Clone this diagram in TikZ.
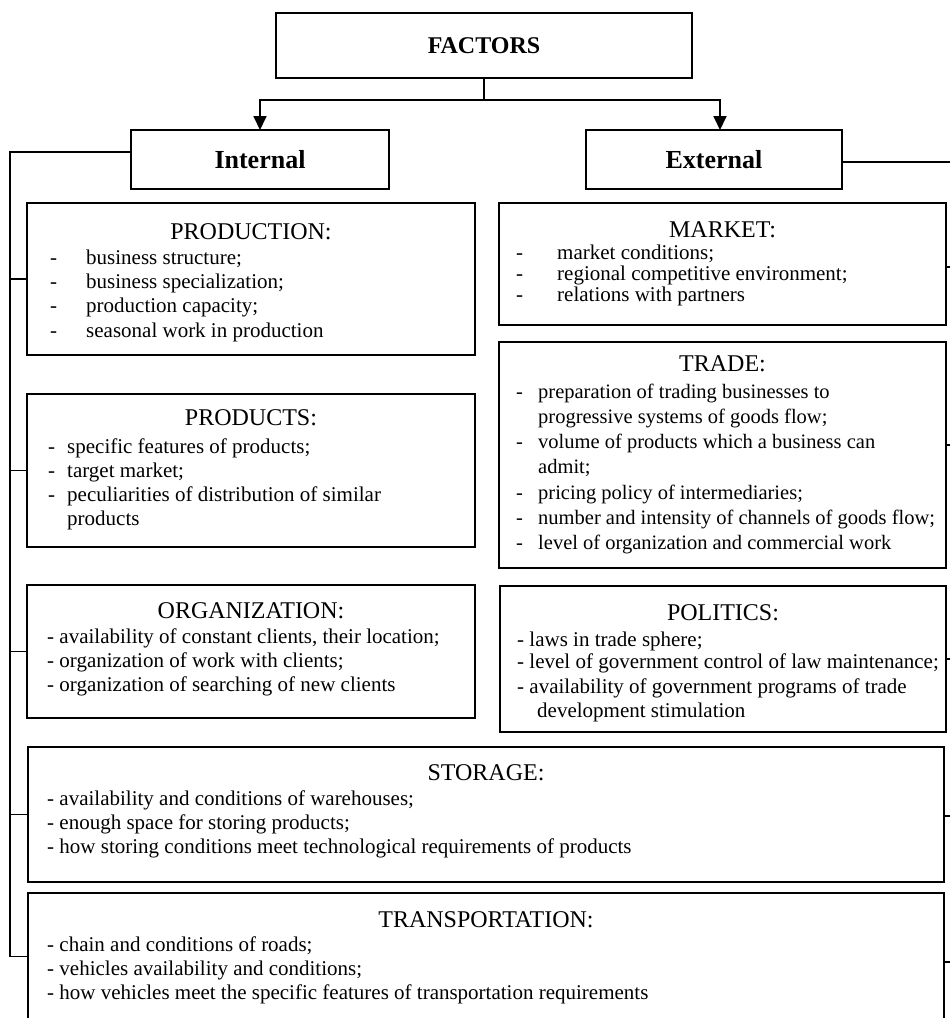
\documentclass[tikz,border=0pt]{standalone}
\usepackage{fontspec}
\setmainfont{Liberation Serif}
\usetikzlibrary{arrows.meta}
\tikzset{
  box/.style={draw, line width=1.8pt, inner sep=0pt, outer sep=0pt, anchor=north west},
  wire/.style={line width=1.8pt},
  arr/.style={wire, -{Triangle[length=14pt,width=13pt]}},
  body/.style={anchor=base west, inner sep=0pt, font=\fontsize{21}{25}\selectfont},
  tbody/.style={anchor=base west, inner sep=0pt, font=\fontsize{20.5}{24}\selectfont},
  head/.style={anchor=base, inner sep=0pt, font=\fontsize{24}{28}\selectfont},
  title/.style={font=\fontsize{24}{28}\selectfont\bfseries},
  sub/.style={font=\fontsize{26}{30}\selectfont\bfseries},
}
\newcommand\putline[4]{\node[body] (#1) at (#2,#3) {#4};}
\newcommand\puttline[4]{\node[tbody] (#1) at (#2,#3) {#4};}
\begin{document}
\begin{tikzpicture}[x=1pt,y=-1pt]
\useasboundingbox (0,0) rectangle (950,1018);

% top level
\node[box, title, minimum width=416pt, minimum height=65pt] (factors) at (276,13) {FACTORS};
\node[box, sub, minimum width=258pt, minimum height=59pt] (internal) at (131,130) {Internal};
\node[box, sub, minimum width=256pt, minimum height=59pt] (external) at (586,130) {External};

% left boxes
\node[box, minimum width=448pt, minimum height=152pt] (prod) at (27,203) {};
\node[box, minimum width=448pt, minimum height=153pt] (products) at (27,394) {};
\node[box, minimum width=448pt, minimum height=133pt] (org) at (27,585) {};
\node[box, minimum width=916pt, minimum height=135pt] (storage) at (28,747) {};
\node[box, minimum width=916pt, minimum height=127pt] (trans) at (28,893) {};
% right boxes
\node[box, minimum width=447pt, minimum height=122pt] (market) at (499,203) {};
\node[box, minimum width=447pt, minimum height=226pt] (trade) at (499,342) {};
\node[box, minimum width=446pt, minimum height=146pt] (politics) at (500,586) {};

% headings
\node[head] (hprod) at (251,239) {PRODUCTION:};
\node[head] (hproducts) at (251,425) {PRODUCTS:};
\node[head] (horg) at (251,618) {ORGANIZATION:};
\node[head] (hmarket) at (722.5,237) {MARKET:};
\node[head] (htrade) at (722.5,371) {TRADE:};
\node[head] (hpolitics) at (723,620) {POLITICS:};
\node[head] (hstorage) at (486,780) {STORAGE:};
\node[head] (htrans) at (486,927) {TRANSPORTATION:};

% PRODUCTION
\putline{pa}{50}{264}{\makebox[36pt][l]{-}business structure;}
\putline{pb}{50}{288}{\makebox[36pt][l]{-}business specialization;}
\putline{pc}{50}{312}{\makebox[36pt][l]{-}production capacity;}
\putline{pd}{50}{337}{\makebox[36pt][l]{-}seasonal work in production}
% PRODUCTS
\putline{qa}{48}{453}{\makebox[19pt][l]{-}specific features of products;}
\putline{qb}{48}{477}{\makebox[19pt][l]{-}target market;}
\putline{qc}{48}{501}{\makebox[19pt][l]{-}peculiarities of distribution of similar}
\putline{qd}{67}{525}{products}
% ORGANIZATION
\putline{oa}{47}{643}{- availability of constant clients, their location;}
\putline{ob}{47}{667}{- organization of work with clients;}
\putline{oc}{47}{691}{- organization of searching of new clients}
% MARKET
\putline{ma}{516}{259}{\makebox[41pt][l]{-}market conditions;}
\putline{mb}{516}{280}{\makebox[41pt][l]{-}regional competitive environment;}
\putline{mc}{516}{301}{\makebox[41pt][l]{-}relations with partners}
% TRADE
\puttline{ta}{516}{398}{\makebox[22pt][l]{-}preparation of trading businesses to}
\puttline{tb}{538}{423}{progressive systems of goods flow;}
\puttline{tc}{516}{448}{\makebox[22pt][l]{-}volume of products which a business can}
\puttline{td}{538}{473}{admit;}
\puttline{te}{516}{499}{\makebox[22pt][l]{-}pricing policy of intermediaries;}
\puttline{tf}{516}{524}{\makebox[22pt][l]{-}number and intensity of channels of goods flow;}
\puttline{tg}{516}{549}{\makebox[22pt][l]{-}level of organization and commercial work}
% POLITICS
\putline{la}{517}{646}{- laws in trade sphere;}
\putline{lb}{517}{668}{- level of government control of law maintenance;}
\putline{lc}{517}{693}{- availability of government programs of trade}
\putline{ld}{537}{717}{development stimulation}
% STORAGE
\putline{sa}{47}{805}{- availability and conditions of warehouses;}
\putline{sb}{47}{829}{- enough space for storing products;}
\putline{sc}{47}{853}{- how storing conditions meet technological requirements of products}
% TRANSPORTATION
\putline{ra}{47}{951}{- chain and conditions of roads;}
\putline{rb}{47}{975}{- vehicles availability and conditions;}
\putline{rc}{47}{999}{- how vehicles meet the specific features of transportation requirements}

% connectors from FACTORS
\path (factors.south) ++(0,22) coordinate (split);
\draw[wire] (factors.south) -- (split);
\draw[arr] (split) -| (internal.north);
\draw[arr] (split) -| ([xshift=6pt]external.north);

% left trunk
\coordinate (ltop) at (10,152);
\draw[wire] ([yshift=7.5pt]internal.west) -- (ltop) |- (trans.west);
\foreach \b in {prod,products,org,storage}
  \draw[wire] (\b.west) -- (\b.west -| ltop);

% right side
\coordinate (redge) at (950,0);
\draw[wire] ([yshift=-2.5pt]external.east) -- ([yshift=-2.5pt]external.east -| redge);
\draw[wire] ([yshift=-3pt]market.east) -- ([yshift=-3pt]market.east -| redge);
\draw[wire] ([yshift=10pt]trade.east) -- ([yshift=10pt]trade.east -| redge);
\draw[wire] (politics.east) -- (politics.east -| redge);
\draw[wire] ([yshift=-1.5pt]storage.east) -- ([yshift=-1.5pt]storage.east -| redge);
\draw[wire] ([yshift=-5.5pt]trans.east) -- ([yshift=-5.5pt]trans.east -| redge);
\end{tikzpicture}
\end{document}
